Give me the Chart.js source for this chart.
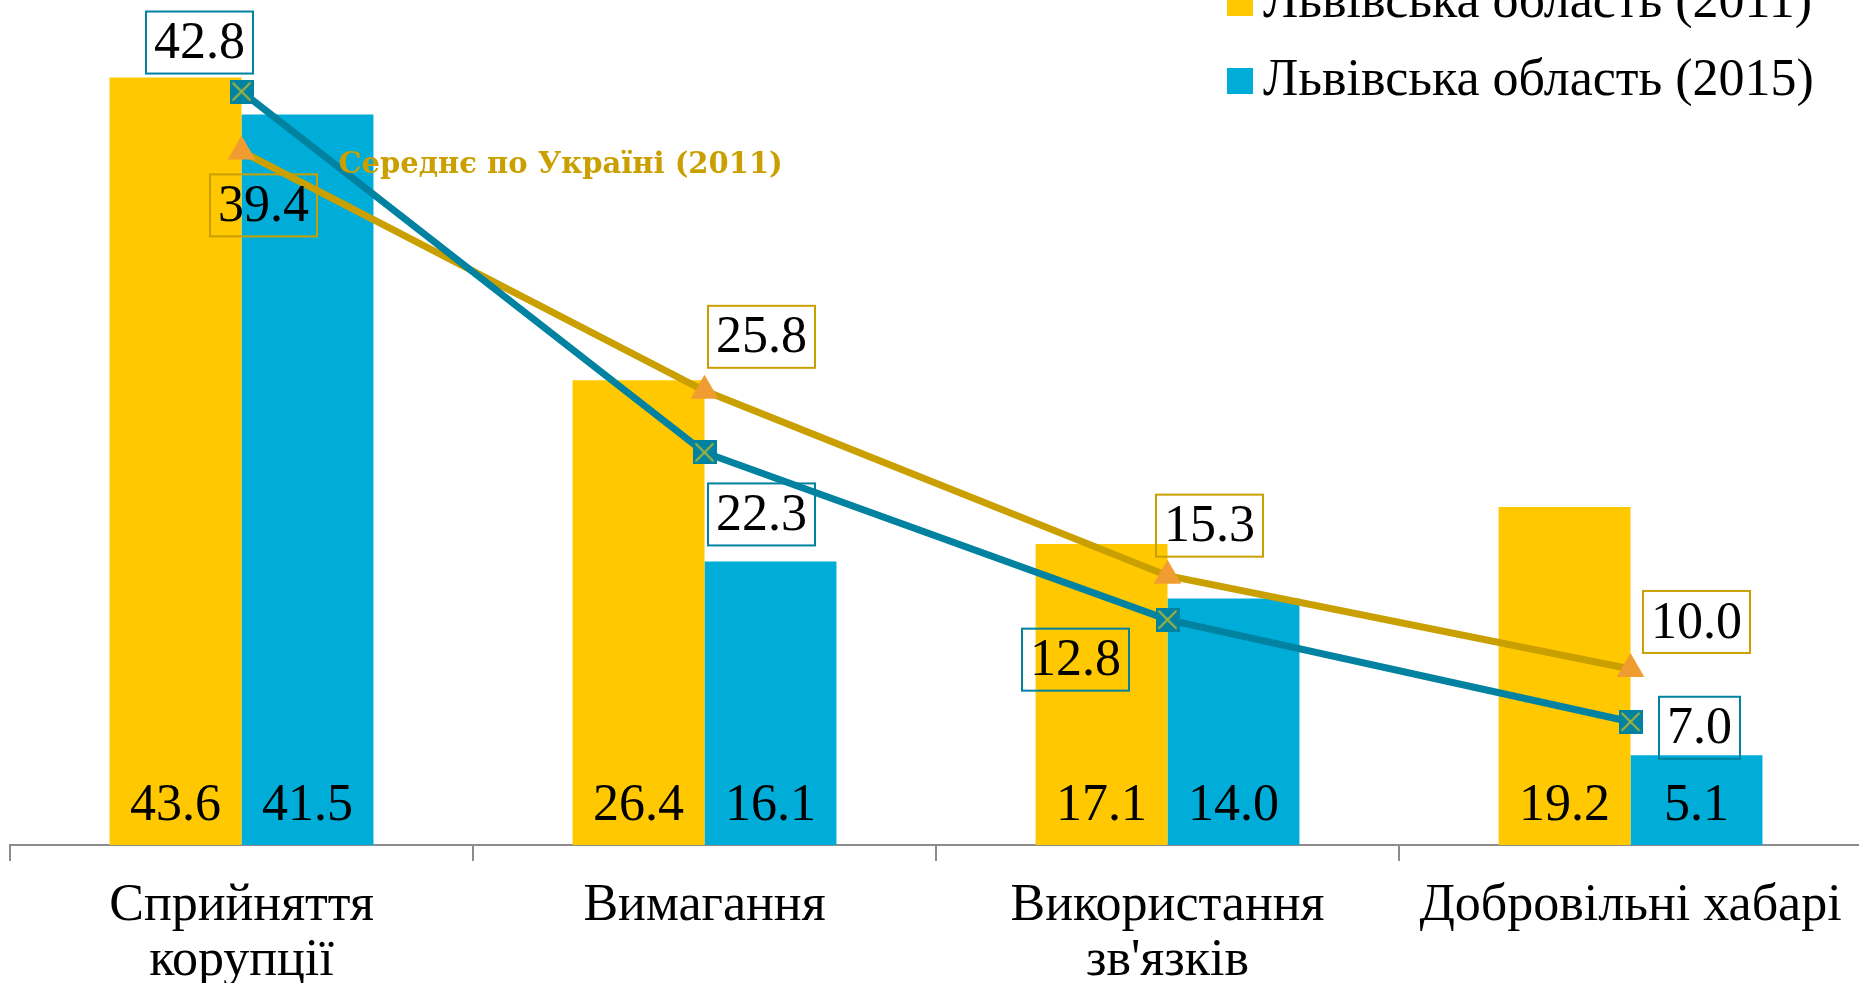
<!DOCTYPE html>
<html>
<head>
<meta charset="utf-8">
<script src="https://cdn.jsdelivr.net/npm/chart.js@4"></script>
<style>
  html, body { margin: 0; padding: 0; background: #fff; overflow: hidden; }
  #wrap { width: 1862px; height: 983px; }
</style>
</head>
<body>
<div id="wrap"><canvas id="chart" width="1862" height="983"></canvas></div>
<script>
// data
const categories = [['Сприйняття', 'корупції'], 'Вимагання', ['Використання', "зв'язків"], 'Добровільні хабарі'];
const lviv2011 = [43.6, 26.4, 17.1, 19.2];
const lviv2015 = [41.5, 16.1, 14.0, 5.1];
const ukraine2011 = [39.4, 25.8, 15.3, 10.0];
const ukraine2015 = [42.8, 22.3, 12.8, 7.0];
const yMax = 48;

const YELLOW = '#FFC800', BLUE = '#00ADD8', GOLD = '#C9A000', TEAL = '#0082A0', ORANGE = '#F09C30';
const FONT = '"Liberation Serif", serif';

// square marker with a cross
function crossBox() {
    const c = document.createElement('canvas'); c.width = 24; c.height = 24;
    const g = c.getContext('2d');
    g.fillStyle = TEAL; g.fillRect(0, 0, 24, 24);
    g.strokeStyle = '#A8B43C'; g.lineWidth = 2;
    g.beginPath(); g.moveTo(3, 3); g.lineTo(21, 21); g.moveTo(21, 3); g.lineTo(3, 21); g.stroke();
    return c;
}

// where each line label box sits relative to its point
const boxOffsets = {
    2: [[22, 54], [57, -54], [42, -50], [66, -47]],
    3: [[-42, -49], [57, 62], [-92, 40], [69, 6]]
};

const labelsPlugin = {
    id: 'labels',
    afterDatasetsDraw(chart) {
        const ctx = chart.ctx;
        const base = chart.scales.y.getPixelForValue(0);
        ctx.save();
        ctx.font = '52px ' + FONT;
        ctx.fillStyle = '#000';
        ctx.textAlign = 'center'; ctx.textBaseline = 'middle';
        [0, 1].forEach(i => {
            chart.getDatasetMeta(i).data.forEach((bar, j) => {
                ctx.fillText(chart.data.datasets[i].data[j].toFixed(1), bar.x, base - 39);
            });
        });
        [2, 3].forEach(i => {
            const ds = chart.data.datasets[i];
            chart.getDatasetMeta(i).data.forEach((pt, j) => {
                const cx = pt.x + boxOffsets[i][j][0], cy = pt.y + boxOffsets[i][j][1];
                const txt = ds.data[j].toFixed(1);
                const w = ctx.measureText(txt).width + 16, h = 62;
                ctx.strokeStyle = ds.borderColor; ctx.lineWidth = 2;
                ctx.strokeRect(cx - w / 2, cy - h / 2, w, h);
                ctx.fillStyle = '#000';
                ctx.fillText(txt, cx, cy + 2);
            });
        });
        // series name next to the 2011 average line
        const p0 = chart.getDatasetMeta(2).data[0];
        ctx.font = 'bold 29px "DejaVu Serif", serif';
        ctx.fillStyle = GOLD; ctx.textAlign = 'left';
        ctx.fillText(chart.data.datasets[2].label, p0.x + 97, p0.y + 14);
        // legend (top right, partly cut off)
        ctx.font = '52px ' + FONT;
        [[0, 3], [1, 81]].forEach(([i, y]) => {
            ctx.fillStyle = chart.data.datasets[i].backgroundColor;
            ctx.fillRect(1227, y - 13, 26, 26);
            ctx.fillStyle = '#000';
            ctx.fillText(chart.data.datasets[i].label, 1263, y);
        });
        ctx.restore();
    }
};

new Chart(document.getElementById('chart'), {
    type: 'bar',
    data: {
        labels: categories,
        datasets: [
            { label: 'Львівська область (2011)', data: lviv2011, backgroundColor: YELLOW, order: 3 },
            { label: 'Львівська область (2015)', data: lviv2015, backgroundColor: BLUE, order: 3 },
            { type: 'line', label: 'Середнє по Україні (2011)', data: ukraine2011, borderColor: GOLD, borderWidth: 7,
              pointStyle: 'triangle', pointRadius: 16, pointBackgroundColor: ORANGE, pointBorderColor: ORANGE, pointBorderWidth: 0, order: 2 },
            { type: 'line', label: 'Середнє по Україні (2015)', data: ukraine2015, borderColor: TEAL, borderWidth: 7,
              pointStyle: crossBox(), pointRadius: 12, order: 1 }
        ]
    },
    options: {
        responsive: false, animation: false,
        layout: { autoPadding: false, padding: { left: 10, top: 0, right: 0, bottom: 0 } },
        datasets: { bar: { categoryPercentage: 0.57, barPercentage: 1 } },
        plugins: { legend: { display: false }, tooltip: { enabled: false } },
        scales: {
            x: {
                afterFit: s => { s.height = 138; },
                border: { display: true, color: '#8C8C8C', width: 2 },
                grid: { display: true, drawOnChartArea: false, offset: true, tickLength: 16, color: '#8C8C8C', lineWidth: 2 },
                ticks: { color: '#000', padding: 18, maxRotation: 0, minRotation: 0, autoSkip: false,
                         font: { family: FONT, size: 52, lineHeight: 1.06 } }
            },
            y: { display: false, min: 0, max: yMax }
        }
    },
    plugins: [labelsPlugin]
});
</script>
</body>
</html>
